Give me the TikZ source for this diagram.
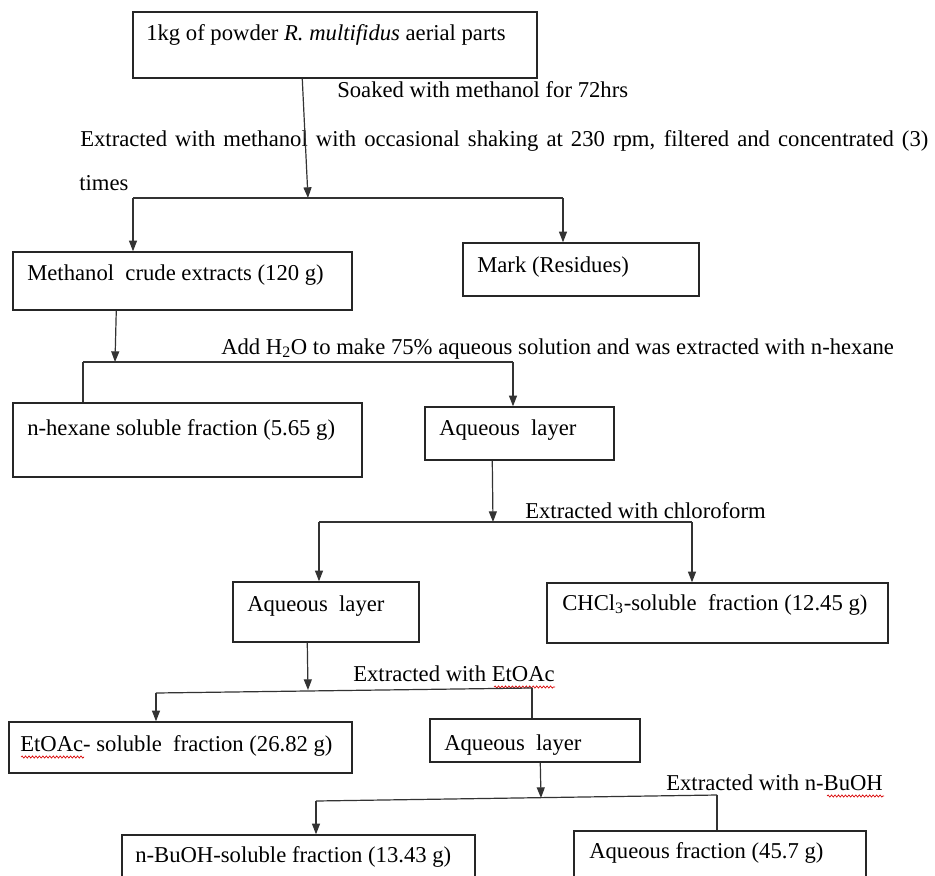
\documentclass[tikz,border=0pt]{standalone}
\usepackage{fontspec}
\setmainfont{Liberation Serif}
\usetikzlibrary{arrows.meta,calc,fit,decorations.pathmorphing}
\tikzset{
  box/.style={draw=black!85, line width=1.1pt, inner sep=0pt},
  lbl/.style={anchor=base west, inner sep=0pt},
  conn/.style={draw=black!80, line width=0.9pt},
  arr/.style={conn, -{Triangle[length=8pt,width=6pt]}},
  spell/.style={draw=red!85!black, line width=0.5pt, decorate, decoration={snake, amplitude=0.8pt, segment length=2.6pt}}
}
\begin{document}
\begin{tikzpicture}[x=0.75pt,y=-0.75pt,font=\fontsize{17}{20}\selectfont]
\useasboundingbox (0,0) rectangle (935,875);
\clip (0,0) rectangle (935,875);
\fill[white] (0,0) rectangle (935,875);

% boxes
\node[box, fit={(133,12) (537,78)}] (raw) {};
\node[box, fit={(13,252) (352,310)}] (meth) {};
\node[box, fit={(463,243) (699,296)}] (mark) {};
\node[box, fit={(13,403) (362,477)}] (hex) {};
\node[box, fit={(425,407) (614,460)}] (aqa) {};
\node[box, fit={(233,582) (419,642)}] (aqb) {};
\node[box, fit={(547,583) (888,643)}] (chcl) {};
\node[box, fit={(9,722) (352,773)}] (eto) {};
\node[box, fit={(430,719) (640,762)}] (aqc) {};
\node[box, fit={(122,835) (475,900)}] (buoh) {};
\node[box, fit={(574,831) (866,900)}] (aqf) {};

% box texts
\node[lbl] (traw) at (146,40) {1kg of powder \textit{R. multifidus} aerial parts};
\node[lbl] (tmeth) at (27,280) {Methanol\ \ crude extracts (120 g)};
\node[lbl] (tmark) at (477,272) {Mark (Residues)};
\node[lbl] (thex) at (27,435) {n-hexane soluble fraction (5.65 g)};
\node[lbl] (taqa) at (439,435) {Aqueous\ \ layer};
\node[lbl] (taqb) at (247,611) {Aqueous\ \ layer};
\node[lbl] (tchcl) at (562,610) {CHCl\textsubscript{3}-soluble\ \ fraction (12.45 g)};
\node[lbl] (teto) at (20,751) {EtOAc- soluble\ \ fraction (26.82 g)};
\node[lbl] (taqc) at (444,750) {Aqueous\ \ layer};
\node[lbl] (tbuoh) at (135,862) {n-BuOH-soluble fraction (13.43 g)};
\node[lbl] (taqf) at (589,858) {Aqueous fraction (45.7 g)};

% step labels
\node[lbl] (l1) at (337,97) {Soaked with methanol for 72hrs};
\node[lbl] (l2) at (80,146) {\makebox[636pt][s]{Extracted with methanol with occasional shaking at 230 rpm, filtered and concentrated (3)}};
\node[lbl] (l2b) at (79,190) {times};
\node[lbl] (l3) at (221,354) {Add H\textsubscript{2}O to make 75\% aqueous solution and was extracted with n-hexane};
\node[lbl] (l4) at (525,518) {Extracted with chloroform};
\node[lbl] (l5) at (353,681) {Extracted with EtOAc};
\node[lbl] (l6) at (666,790) {Extracted with n-BuOH};

% spell-check marks
\draw[spell] (494,687) -- (555,687);
\draw[spell] (21,757) -- (84,757);
\draw[spell] (827,796) -- (884,796);

% branch points
\coordinate (s1) at (308,198);
\coordinate (s1l) at (133,198);
\coordinate (s1r) at (563,198);
\coordinate (s2) at (115,362);
\coordinate (s2l) at (83,362);
\coordinate (s2r) at (513,362);
\coordinate (s3) at (493,522);
\coordinate (s3l) at (319,522);
\coordinate (s3r) at (692,522);
\coordinate (s4) at (308,690);
\coordinate (s4l) at (156,693);
\coordinate (s4r) at (532,688);
\coordinate (s5) at (541,798);
\coordinate (s5l) at (316,801);
\coordinate (s5r) at (717,795);

% step 1
\draw[arr] ($(raw.south west)+(170,0)$) -- (s1);
\draw[conn] (s1l) -- (s1r);
\draw[arr] (s1l) -- (s1l |- meth.north);
\draw[arr] (s1r) -- (s1r |- mark.north);
% step 2
\draw[arr] ($(meth.south west)+(104,0)$) -- (s2);
\draw[conn] (s2l) -- (s2r);
\draw[conn] (s2l) -- (s2l |- hex.north);
\draw[arr] (s2r) -- (s2r |- aqa.north);
% step 3
\draw[arr] ($(aqa.south west)+(68,0)$) -- (s3);
\draw[conn] (s3l) -- (s3r);
\draw[arr] (s3l) -- (s3l |- aqb.north);
\draw[arr] (s3r) -- (s3r |- chcl.north);
% step 4
\draw[arr] ($(aqb.south west)+(75,0)$) -- (s4);
\draw[conn] (s4l) -- (s4r);
\draw[arr] (s4l) -- (s4l |- eto.north);
\draw[conn] (s4r) -- (s4r |- aqc.north);
% step 5
\draw[arr] ($(aqc.south west)+(111,0)$) -- (s5);
\draw[conn] (s5l) -- (s5r);
\draw[arr] (s5l) -- (s5l |- buoh.north);
\draw[conn] (s5r) -- (s5r |- aqf.north);
\end{tikzpicture}
\end{document}
